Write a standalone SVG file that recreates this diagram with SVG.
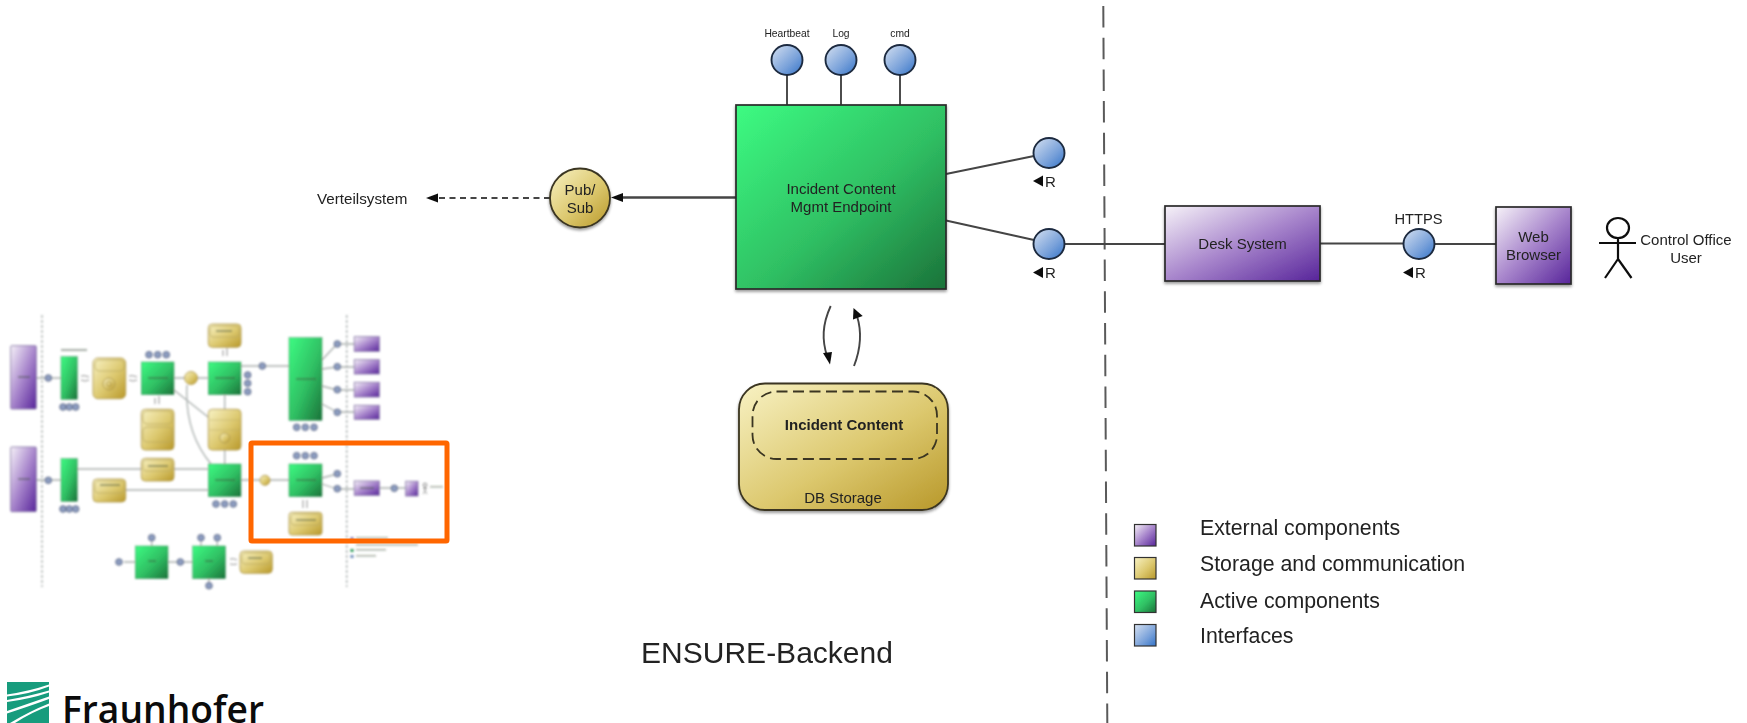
<svg xmlns="http://www.w3.org/2000/svg" width="1747" height="723" viewBox="0 0 1747 723">
<style>
text{font-family:"Liberation Sans",Arial,sans-serif;fill:#222;text-anchor:middle;font-size:15px}
.l{text-anchor:start}
.cn{fill:none;stroke:#444;stroke-width:1.900}
.box{stroke:#2a2a2a;stroke-width:1.700}
.ci{fill:url(#blue);stroke:#1e2c40;stroke-width:1.900}
.g{fill:url(#green)}.p{fill:url(#purple)}.y{fill:url(#gold)}.b{fill:url(#blue)}
.tl{fill:none;stroke:#aab0ae;stroke-width:1.300}
.tg{fill:url(#green);stroke:#3a8a5a;stroke-width:.5}
.tp{fill:url(#purple);stroke:#8878a8;stroke-width:.9}
.ty{fill:url(#gold);stroke:#b09a50;stroke-width:.9}
.ti{fill:#8c9cc0;stroke:#5c6884;stroke-width:.9}
.tx{fill:#3f4f3a;opacity:.45}
.ty2{fill:none;stroke:#b8a860;stroke-width:.7}
.ta{fill:none;stroke:#666;stroke-width:.7}
.sw{stroke:#333;stroke-width:1.200}
</style>
<defs>
<linearGradient id="green" x1="0" y1="0" x2="1" y2="1"><stop offset="0" stop-color="#3dfb82"/><stop offset=".55" stop-color="#2fbf63"/><stop offset="1" stop-color="#1b7239"/></linearGradient>
<linearGradient id="purple" x1="0" y1="0" x2="1" y2="1"><stop offset="0" stop-color="#f6f2f8"/><stop offset=".5" stop-color="#a886cc"/><stop offset="1" stop-color="#57249a"/></linearGradient>
<linearGradient id="gold" x1="0" y1="0" x2="1" y2="1"><stop offset="0" stop-color="#f8f2c4"/><stop offset=".55" stop-color="#dcc86e"/><stop offset="1" stop-color="#b8982a"/></linearGradient>
<linearGradient id="blue" x1="0" y1="0" x2="1" y2="1"><stop offset="0" stop-color="#d6e1f1"/><stop offset=".6" stop-color="#7aa2da"/><stop offset="1" stop-color="#3373c8"/></linearGradient>
<filter id="sh" x="-10%" y="-10%" width="120%" height="125%"><feGaussianBlur in="SourceAlpha" stdDeviation="1.600"/><feOffset dy="2"/><feComponentTransfer><feFuncA type="linear" slope=".4"/></feComponentTransfer><feMerge><feMergeNode/><feMergeNode in="SourceGraphic"/></feMerge></filter>
<filter id="soft" x="-2%" y="-2%" width="104%" height="104%"><feGaussianBlur stdDeviation=".5"/></filter>
<filter id="tb" x="-2%" y="-2%" width="104%" height="104%"><feGaussianBlur stdDeviation=".9"/></filter>
<clipPath id="logoclip"><rect x="7" y="682" width="42" height="41"/></clipPath>
</defs>
<rect width="1747" height="723" fill="#fff"/>

<g id="thumbnail" filter="url(#tb)">
<path class="tl" stroke-dasharray="3 2" d="M42,315V587M346.700,315V587"/>
<path class="tl" d="M36,378H61M174,378H208M241,366H289M322,360L337,344M322,369L337,367M322,386L337,390M322,404L337,412M337,344H354M337,367H354M337,390H354M337,412H354M224.700,394.700V409M224.700,450V464M174,390L208,417M187,385C185,420 195,445 211,464M36,480H61M77,469H141M174,469H208M125,490H208M241,480H289M322,478L337,474M322,484L337,489M337,489H354M379,488H406M124,562H135M168,562H193M151.700,540V546M201,540V546M217.300,540V546M209,578V584"/>
<path class="ta" d="M81,376q4,-1 8,1M89,380q-4,2 -8,0M129,376q4,-1 8,1M137,380q-4,2 -8,0M155,398v6M159,404v-8M223,350v6M227,356v-8M303,500v8M307,508v-8M230,559q4,-1 7,1M237,564q-4,1 -7,0"/>
<rect class="tp" x="10.700" y="345.700" width="25.600" height="63.300" rx="1"/>
<rect class="tp" x="10.700" y="447" width="25.600" height="64.700" rx="1"/>
<rect class="tg" x="61" y="356.700" width="16.300" height="42.600"/>
<rect class="tg" x="61" y="458.700" width="16.300" height="42.600"/>
<rect class="ty" x="93" y="358" width="32.700" height="40.700" rx="5"/>
<rect class="ty2" x="95" y="360" width="29" height="11" rx="4"/>
<circle class="ty" cx="109" cy="384" r="6"/><circle class="ty" cx="109" cy="384" r="2.500"/>
<rect class="tg" x="141.300" y="362" width="32.700" height="32.700"/>
<circle class="ty" cx="191" cy="378" r="6.500"/>
<rect class="tg" x="208.300" y="362" width="32.700" height="32.700"/>
<rect class="ty" x="208.300" y="324" width="32.700" height="23.300" rx="4"/>
<rect class="ty2" x="210" y="326" width="29" height="11" rx="3"/>
<rect class="ty" x="141.300" y="409.300" width="32.700" height="40.700" rx="4"/>
<rect class="ty2" x="143" y="411" width="29" height="13" rx="4"/><rect class="ty2" x="143" y="427" width="29" height="15" rx="4"/>
<rect class="ty" x="208.300" y="409.300" width="32.700" height="40.700" rx="4"/>
<circle class="ty" cx="224.700" cy="438" r="5"/>
<path class="ty2" d="M210,420H240M210,430H240" stroke-dasharray="2 1"/>
<rect class="tg" x="289" y="337.700" width="33" height="82.600"/>
<rect class="tp" x="354.300" y="336.700" width="25" height="14.600"/>
<rect class="tp" x="354.300" y="359.700" width="25" height="14.300"/>
<rect class="tp" x="354.300" y="382.300" width="25" height="14.700"/>
<rect class="tp" x="354.300" y="405.300" width="25" height="14"/>
<rect class="ty" x="141.300" y="458.300" width="32.700" height="22.700" rx="4"/>
<rect class="ty2" x="143" y="460" width="29" height="11" rx="3"/>
<rect class="ty" x="93" y="479" width="32.700" height="23" rx="4"/>
<rect class="ty2" x="95" y="481" width="29" height="12" rx="3"/>
<rect class="tg" x="208.300" y="464" width="32.700" height="32.700"/>
<circle class="ty" cx="265" cy="480.300" r="5"/>
<rect class="tg" x="289" y="464" width="33" height="32.700"/>
<rect class="tp" x="354.300" y="481" width="25" height="14.300"/>
<rect class="tp" x="405.700" y="481.300" width="12.300" height="14.700"/>
<rect class="ty" x="289" y="512.300" width="33" height="22.700" rx="3"/>
<rect class="ty2" x="291" y="514" width="29" height="11" rx="3"/>
<rect class="tg" x="135.300" y="546" width="32.700" height="32.700"/>
<rect class="tg" x="192.700" y="546" width="32.700" height="32.700"/>
<rect class="ty" x="240" y="551" width="32.300" height="22.300" rx="4"/>
<rect class="ty2" x="242" y="553" width="28" height="11" rx="3"/>
<g>
<circle class="ti" cx="48.300" cy="378" r="3.300"/><circle class="ti" cx="48.300" cy="480.300" r="3.300"/>
<circle class="ti" cx="63" cy="407" r="3.300"/><circle class="ti" cx="69.300" cy="407" r="3.300"/><circle class="ti" cx="75.700" cy="407" r="3.300"/>
<circle class="ti" cx="63" cy="509" r="3.300"/><circle class="ti" cx="69.300" cy="509" r="3.300"/><circle class="ti" cx="75.700" cy="509" r="3.300"/>
<circle class="ti" cx="149" cy="354.700" r="3.300"/><circle class="ti" cx="157.700" cy="354.700" r="3.300"/><circle class="ti" cx="166.300" cy="354.700" r="3.300"/>
<circle class="ti" cx="216" cy="504" r="3.300"/><circle class="ti" cx="224.700" cy="504" r="3.300"/><circle class="ti" cx="233.300" cy="504" r="3.300"/>
<circle class="ti" cx="247.700" cy="375" r="3.300"/><circle class="ti" cx="247.700" cy="383.300" r="3.300"/><circle class="ti" cx="247.700" cy="391.700" r="3.300"/>
<circle class="ti" cx="262.300" cy="366" r="3.300"/>
<circle class="ti" cx="337.300" cy="344" r="3.300"/><circle class="ti" cx="337.300" cy="366.700" r="3.300"/><circle class="ti" cx="337.300" cy="389.700" r="3.300"/><circle class="ti" cx="337.300" cy="412.300" r="3.300"/>
<circle class="ti" cx="296.700" cy="427.300" r="3.300"/><circle class="ti" cx="305.300" cy="427.300" r="3.300"/><circle class="ti" cx="314" cy="427.300" r="3.300"/>
<circle class="ti" cx="296.700" cy="455.700" r="3.300"/><circle class="ti" cx="305.300" cy="455.700" r="3.300"/><circle class="ti" cx="314" cy="455.700" r="3.300"/>
<circle class="ti" cx="337.300" cy="473.700" r="3.300"/><circle class="ti" cx="337.300" cy="488.700" r="3.300"/><circle class="ti" cx="394.300" cy="488.300" r="3.300"/>
<circle class="ti" cx="119" cy="562" r="3.300"/><circle class="ti" cx="180.300" cy="562" r="3.300"/><circle class="ti" cx="151.700" cy="537.700" r="3.300"/><circle class="ti" cx="201" cy="537.700" r="3.300"/><circle class="ti" cx="217.300" cy="537.700" r="3.300"/><circle class="ti" cx="209" cy="585.700" r="3.300"/>
</g>
<path class="tx" d="M18,376h12v2h-12zM61,349h26v2h-26zM148,377h20v2h-20zM215,377h20v2h-20zM296,378h20v2h-20zM216,330h16v2h-16zM18,478h12v2h-12zM148,465h20v2h-20zM100,484h20v2h-20zM215,479h20v2h-20zM296,479h20v2h-20zM296,519h20v2h-20zM148,560h8v2h-8zM205,560h8v2h-8zM248,557h14v2h-14zM360,487h14v2h-14zM430,486h13v1.500h-13zM356,537h32v1.500h-32zM356,544h62v1.500h-62zM356,549h30v1.500h-30zM356,555h20v1.500h-20z"/>
<rect x="350.500" y="537" width="3" height="3" fill="#8a78b0"/><rect x="350.500" y="549" width="3" height="3" fill="#2f9a58"/><rect x="350.500" y="555" width="3" height="3" fill="#6a8ab8"/>
<circle cx="425" cy="485" r="1.800" fill="none" stroke="#555" stroke-width=".7"/><path d="M425,487v4l-2,3M425,491l2,3M423,488.500h4" fill="none" stroke="#555" stroke-width=".6"/>
</g>
<rect id="highlight" x="251" y="443" width="196" height="98" rx="1" fill="none" stroke="#ff6600" stroke-width="5"/>

<g id="logo">
<g clip-path="url(#logoclip)">
<rect x="7" y="682" width="42" height="41" fill="#179c7d"/>
<path fill="#fff" d="M49,684.500Q30,691 7,694.500V696.500Q30,694 49,686.500ZM49,690.500Q30,696 7,700V702Q30,699 49,692.500ZM49,696.500Q30,703 7,711V713.500Q30,706 49,699ZM49,703.500Q30,711 10,723H15Q32,712 49,706Z"/>
</g>
<text class="l" x="62" y="722.500" style="font-family:'Open Sans','Noto Sans',sans-serif;font-weight:600;font-size:37.200px;fill:#0b0b0b">Fraunhofer</text>
</g>

<g id="main" filter="url(#soft)">
<path id="boundary" d="M1103.300,6L1107.300,723" fill="none" stroke="#5a5a5a" stroke-width="2" stroke-dasharray="21.500 10.200"/>
<g id="connectors">
<path class="cn" d="M787,75V105M841,75V105M900,75V105"/>
<path class="cn" d="M946,174L1034,156M946,220.500L1034,240"/>
<path class="cn" d="M1064,244H1165M1320,243.500H1404M1435,244H1496"/>
<path class="cn" style="stroke-width:2.300" d="M736,197.500H622"/>
<polygon points="611,197.500 623,193 623,202" fill="#111"/>
<path class="cn" stroke-dasharray="6 4.500" d="M550,198H437"/>
<polygon points="426,198 438,193.500 438,202.500" fill="#111"/>
<path class="cn" d="M830.700,306C822,325 822,340 827,356"/>
<polygon points="830,364.500 823,353 832,352" fill="#111"/>
<path class="cn" d="M854,366C861,348 862,332 857,316"/>
<polygon points="853.500,308 853,319.500 862.700,316" fill="#111"/>
</g>
<g id="if-heartbeat"><text x="787" y="36.500" style="font-size:10.300px">Heartbeat</text><ellipse class="ci" cx="787" cy="60" rx="15.500" ry="15"/></g>
<g id="if-log"><text x="841" y="36.500" style="font-size:10.300px">Log</text><ellipse class="ci" cx="841" cy="60" rx="15.500" ry="15"/></g>
<g id="if-cmd"><text x="900" y="36.500" style="font-size:10.300px">cmd</text><ellipse class="ci" cx="900" cy="60" rx="15.500" ry="15"/></g>
<g id="endpoint"><rect class="g box" filter="url(#sh)" x="736" y="105" width="210" height="184"/><text x="841" y="193.500">Incident Content</text><text x="841" y="211.500">Mgmt Endpoint</text></g>
<g id="if-r1"><ellipse class="ci" cx="1049" cy="153" rx="15.500" ry="15"/><polygon points="1033,181 1043,175.500 1043,186.500" fill="#111"/><text class="l" x="1045" y="186.500">R</text></g>
<g id="if-r2"><ellipse class="ci" cx="1049" cy="244" rx="15.500" ry="15"/><polygon points="1033,272.500 1043,267 1043,278" fill="#111"/><text class="l" x="1045" y="278">R</text></g>
<g id="pubsub"><ellipse class="y" stroke="#3a3520" stroke-width="1.800" filter="url(#sh)" cx="580" cy="198" rx="30" ry="29.500"/><text x="580" y="194.500">Pub/</text><text x="580" y="213">Sub</text></g>
<text id="verteilsystem" class="l" x="317" y="204" style="font-size:15.200px">Verteilsystem</text>
<g id="db"><rect class="y" stroke="#3a3520" stroke-width="1.800" filter="url(#sh)" x="739" y="383.500" width="209" height="126.500" rx="26"/>
<rect x="752.500" y="391.500" width="184.500" height="67.500" rx="24" fill="none" stroke="#3a3520" stroke-width="1.800" stroke-dasharray="11 5.500"/>
<text x="844" y="430" style="font-weight:700">Incident Content</text><text x="843" y="502.500">DB Storage</text></g>
<text id="backend" x="767" y="663" style="font-size:30px">ENSURE-Backend</text>
<g id="desk"><rect class="p box" filter="url(#sh)" x="1165" y="206" width="155" height="75"/><text x="1242.500" y="249">Desk System</text></g>
<g id="if-https"><text x="1418.500" y="223.500" style="font-size:14.700px">HTTPS</text><ellipse class="ci" cx="1419" cy="244" rx="15.500" ry="15"/><polygon points="1403,272.500 1413,267 1413,278" fill="#111"/><text class="l" x="1415" y="278">R</text></g>
<g id="browser"><rect class="p box" filter="url(#sh)" x="1496" y="207" width="75" height="77"/><text x="1533.500" y="242">Web</text><text x="1533.500" y="260">Browser</text></g>
<g id="actor"><ellipse cx="1618" cy="228" rx="11" ry="10" fill="#fff" stroke="#111" stroke-width="2.200"/><path d="M1618,238V259M1599,243H1636M1618,259L1605,278M1618,259L1631.500,278" fill="none" stroke="#111" stroke-width="2.200"/><text x="1686" y="244.500">Control Office</text><text x="1686" y="262.500">User</text></g>
<g id="legend">
<rect class="p sw" x="1134.500" y="524.500" width="21.500" height="21.500"/><text class="l" x="1200" y="535" style="font-size:21.300px">External components</text>
<rect class="y sw" x="1134.500" y="557.500" width="21.500" height="21.500"/><text class="l" x="1200" y="571" style="font-size:21.300px">Storage and communication</text>
<rect class="g sw" x="1134.500" y="591" width="21.500" height="21.500"/><text class="l" x="1200" y="607.500" style="font-size:21.300px">Active components</text>
<rect class="b sw" x="1134.500" y="624.500" width="21.500" height="21.500"/><text class="l" x="1200" y="643" style="font-size:21.300px">Interfaces</text>
</g>
</g>
</svg>
